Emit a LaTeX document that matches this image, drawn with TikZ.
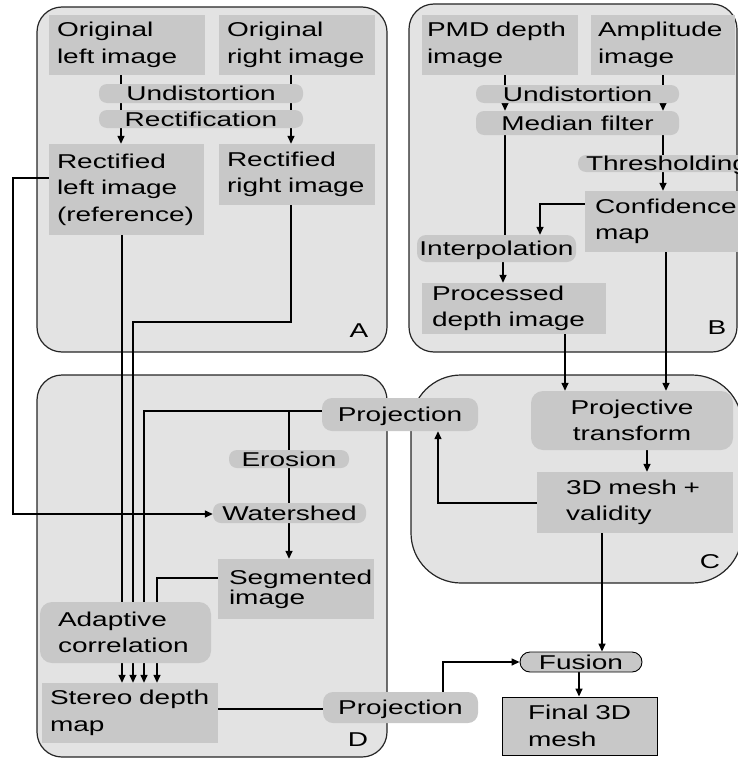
\documentclass[tikz,border=0pt]{standalone}
\usepackage{fontspec}
\setmainfont{Liberation Sans}[FakeStretch=1.4]
\usetikzlibrary{arrows.meta}
\definecolor{outergray}{HTML}{E3E3E3}
\definecolor{nodegray}{HTML}{C8C8C8}
\newcommand\dfont{\fontsize{20}{26.5}\selectfont\hyphenpenalty=10000\relax}
\newcommand\dfonttight{\fontsize{20}{20}\selectfont\hyphenpenalty=10000\relax}
\pgfdeclarelayer{bg}\pgfdeclarelayer{lines}\pgfsetlayers{bg,lines,main}
\begin{document}
\begin{tikzpicture}[x=1pt,y=-1pt,
  gbox/.style={fill=nodegray, font=\dfont, align=left, inner ysep=0pt},
  pill/.style={fill=nodegray, font=\dfont, align=center, inner sep=0pt, rounded corners=8pt, text height=14.3pt, text depth=0pt},
  grp/.style={draw=black!85, line width=1.2pt, fill=outergray},
  conn/.style={line width=1.4pt},
  arr/.style={conn, -{Triangle[length=8pt,width=7pt]}},
  lab/.style={font=\dfont, inner sep=0pt}]
\useasboundingbox (0,0) rectangle (738,760);

% group backgrounds
\begin{pgfonlayer}{bg}
\draw[grp, rounded corners=25pt] (37,7) rectangle (387,352);
\draw[grp, rounded corners=25pt] (409,4) rectangle (737,352);
\draw[grp, rounded corners=50pt] (411,375) rectangle (742,583);
\draw[grp, rounded corners=25pt] (37,375) rectangle (387,757);
\end{pgfonlayer}

% ---- group A
\node[gbox, minimum width=156pt, minimum height=60pt, inner xsep=8pt, text width=140pt] (ol) at (127,45) {Original\\left~image};
\node[gbox, minimum width=156pt, minimum height=60pt, inner xsep=8pt, text width=140pt] (or) at (297,45) {Original\\right~image};
\node[pill, minimum width=204pt, minimum height=19pt] (undA) at (201,93.5) {Undistortion};
\node[pill, minimum width=204pt, minimum height=18pt] (rectA) at (201,119) {Rectification};
\node[gbox, minimum width=155pt, minimum height=91pt, inner xsep=8pt, text width=139pt] (rl) at (126.5,189.5) {Rectified\\left~image\\(reference)};
\node[gbox, minimum width=156pt, minimum height=61pt, inner xsep=8pt, text width=140pt] (rr) at (297,174.5) {Rectified\\right~image};
\node[lab] (labA) at (359,331) {A};

% ---- group B
\node[gbox, minimum width=156pt, minimum height=60pt, inner xsep=5pt, text width=146pt] (pmd) at (500,45) {PMD~depth\\image};
\node[gbox, minimum width=144pt, minimum height=60pt, inner xsep=7pt, text width=130pt] (amp) at (663,45) {Amplitude\\image};
\node[pill, minimum width=203pt, minimum height=18pt] (undB) at (577.5,94) {Undistortion};
\node[pill, minimum width=203pt, minimum height=24pt] (med) at (577.5,123) {Median~filter};
\node[pill, minimum width=178pt, minimum height=17pt] (thr) at (667,163.5) {Thresholding};
\node[gbox, minimum width=162pt, minimum height=61pt, inner xsep=10pt, text width=142pt] (conf) at (666,221.5) {Confidence\\map};
\node[pill, minimum width=159pt, minimum height=27pt, rounded corners=9pt] (interp) at (496.5,248.5) {Interpolation};
\node[gbox, minimum width=184pt, minimum height=51pt, inner xsep=10pt, text width=164pt] (proc) at (514,308.5) {Processed\\depth~image};
\node[lab] (labB) at (717,328) {B};

% ---- group C
\node[gbox, align=center, rounded corners=12pt, minimum width=202pt, minimum height=59pt, inner xsep=0pt] (projT) at (632,420.5) {Projective\\transform};
\node[gbox, minimum width=196pt, minimum height=61pt, inner xsep=29pt, text width=138pt] (mesh) at (635,502.5) {3D~mesh~+\\validity};
\node[lab] (labC) at (710,562) {C};

% ---- group D
\node[pill, minimum width=156pt, minimum height=33pt, rounded corners=10pt] (projU) at (400,414.5) {Projection};
\node[pill, minimum width=120pt, minimum height=18pt] (ero) at (289,459) {Erosion};
\node[pill, minimum width=153pt, minimum height=20pt] (ws) at (289.5,513) {Watershed};
\node[gbox, font=\dfonttight, minimum width=156pt, minimum height=60pt, inner xsep=11pt, text width=134pt] (seg) at (296,589) {Segmented\\image};
\node[gbox, rounded corners=12pt, minimum width=171pt, minimum height=61pt, inner xsep=18pt, text width=135pt] (adapt) at (125.5,632.5) {Adaptive\\correlation};
\node[gbox, minimum width=176pt, minimum height=60pt, inner xsep=8pt, text width=160pt] (stereo) at (130,713) {Stereo~depth\\map};
\node[pill, minimum width=155pt, minimum height=31pt, rounded corners=10pt] (projL) at (400.5,707.5) {Projection};
\node[lab] (labD) at (358,740) {D};

% ---- output
\node[pill, draw=black, line width=0.9pt, minimum width=122pt, minimum height=20pt, rounded corners=10pt] (fusion) at (581,662) {Fusion};
\node[gbox, draw=black, line width=0.9pt, minimum width=155pt, minimum height=58pt, inner xsep=26pt, text width=103pt] (final) at (579.5,726) {Final~3D\\mesh};

% ---- connectors
\begin{pgfonlayer}{lines}
% A
\draw[arr] (ol.south -| 121,0) -- (rl.north -| 121,0);
\draw[arr] (or.south -| 291,0) -- (rr.north -| 291,0);
\draw[arr] (rl.west |- 0,178) -- (13,178) -- (13,514) -- (ws.west |- 0,514);
\draw[conn] (rl.south -| 122,0) -- (adapt.north -| 122,0);
\draw[conn] (rr.south -| 291,0) -- (291,322) -- (133,322) -- (adapt.north -| 133,0);
% B
\draw[arr] (pmd.south -| 505,0) -- (med.north -| 505,0);
\draw[arr] (amp.south -| 663,0) -- (med.north -| 663,0);
\draw[conn] (med.south -| 505,0) -- (interp.north -| 505,0);
\draw[arr] (med.south -| 663,0) -- (conf.north -| 663,0);
\draw[arr] (conf.west |- 0,204) -| (interp.north -| 540,0);
\draw[arr] (interp.south -| 503,0) -- (proc.north -| 503,0);
\draw[arr] (proc.south -| 565,0) -- (projT.north -| 565,0);
\draw[arr] (conf.south -| 666,0) -- (projT.north -| 666,0);
% C
\draw[arr] (projT.south -| 647,0) -- (mesh.north -| 647,0);
\draw[arr] (mesh.west |- 0,503) -| (projU.south -| 438,0);
\draw[arr] (mesh.south -| 602,0) -- (fusion.north -| 602,0);
% D
\coordinate (jn) at (289,411);
\draw[conn] (projU.west |- 0,411) -| (adapt.north -| 144,0);
\draw[arr] (jn) -- (seg.north -| 289,0);
\draw[conn] (seg.west |- 0,578) -| (adapt.north -| 157,0);
\foreach \xx in {122,133,144,157}
  \draw[arr] (adapt.south -| \xx,0) -- (stereo.north -| \xx,0);
\draw[conn] (stereo.east |- 0,709) -- (projL.west |- 0,709);
% output
\draw[arr] (projL.north -| 443,0) |- (fusion.west);
\draw[arr] (fusion.south -| 579,0) -- (final.north -| 579,0);
\end{pgfonlayer}
\end{tikzpicture}
\end{document}
